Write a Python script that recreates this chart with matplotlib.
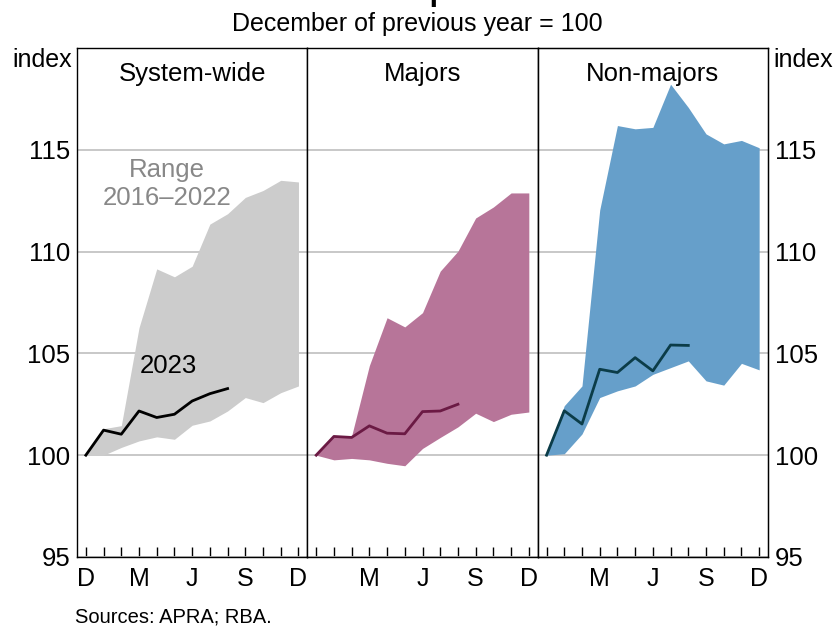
import numpy as np
import matplotlib.pyplot as plt

plt.rcParams['font.family'] = ['Liberation Sans', 'DejaVu Sans']

# --- Data (index, December of previous year = 100) ---
months = list(range(13))  # D, J, F, ... , D
month_labels = ['D', '', '', 'M', '', '', 'J', '', '', 'S', '', '', 'D']

sys_lower = [100, 100.0, 100.38, 100.7, 100.9, 100.78, 101.47, 101.68, 102.17, 102.83, 102.58, 103.07, 103.4]
sys_upper = [100, 101.3, 101.45, 106.26, 109.15, 108.76, 109.28, 111.35, 111.86, 112.66, 113.0, 113.5, 113.42]
sys_2023 = [100, 101.23, 101.03, 102.17, 101.85, 102.01, 102.66, 103.02, 103.27]

maj_lower = [100, 99.77, 99.84, 99.77, 99.6, 99.48, 100.33, 100.87, 101.39, 102.06, 101.65, 102.01, 102.12]
maj_upper = [100, 100.95, 100.95, 104.4, 106.75, 106.3, 107.0, 109.04, 110.02, 111.65, 112.19, 112.88, 112.88]
maj_2023 = [100, 100.92, 100.87, 101.44, 101.08, 101.05, 102.14, 102.17, 102.5]

non_lower = [100, 100.07, 101.04, 102.83, 103.16, 103.4, 103.97, 104.3, 104.63, 103.65, 103.44, 104.51, 104.19]
non_upper = [100, 102.43, 103.4, 112.04, 116.19, 116.03, 116.1, 118.22, 117.08, 115.78, 115.29, 115.46, 115.1]
non_2023 = [100, 102.18, 101.53, 104.22, 104.06, 104.79, 104.14, 105.41, 105.39]

panels = [
    ('System-wide', sys_lower, sys_upper, sys_2023, '#cccccc', '#000000'),
    ('Majors', maj_lower, maj_upper, maj_2023, '#b77599', '#6b1a44'),
    ('Non-majors', non_lower, non_upper, non_2023, '#669fca', '#0b3c48'),
]
yticks = [95, 100, 105, 110, 115]

fig = plt.figure(figsize=(8.35, 6.28), dpi=100)
axes = fig.subplots(1, 3, sharey=True)
fig.subplots_adjust(left=0.0922, right=0.9198, bottom=0.1131, top=0.9236, wspace=0)

for i, (name, lo, hi, cur, fill_c, line_c) in enumerate(panels):
    ax = axes[i]
    ax.set_xlim(-0.5, 12.5)
    ax.set_ylim(95, 120)
    ax.set_yticks(yticks)
    ax.grid(axis='y', color='#c4c4c4', linewidth=1.3, zorder=0)
    ax.set_axisbelow(True)
    ax.fill_between(months, lo, hi, color=fill_c, linewidth=0, zorder=2)
    ax.plot(months[:len(cur)], cur, color=line_c, linewidth=2, zorder=3)
    ax.set_xticks(months)
    labels = list(month_labels)
    if i > 0:
        labels[0] = ''
    ax.set_xticklabels(labels, fontsize=18)
    ax.tick_params(axis='x', direction='in', length=7, width=1, pad=7)
    ax.tick_params(axis='y', length=0, labelsize=18.5, pad=5)
    for s in ax.spines.values():
        s.set_color('black')
        s.set_linewidth(1)
    ax.text(0.5, 0.972, name, transform=ax.transAxes, ha='center', va='top', fontsize=18.5)

# right-hand axis labels
rax = axes[2].twinx()
rax.set_ylim(95, 120)
rax.set_yticks(yticks)
rax.tick_params(axis='y', length=0, labelsize=18.5, pad=5)

axes[0].tick_params(axis='y', labelleft=True)

# annotations
axes[0].text(4.6, 113.3, 'Range\n2016\u20132022', color='#888888', fontsize=18.5,
             ha='center', va='center', linespacing=1.2)
axes[0].text(4.66, 104.4, '2023', color='black', fontsize=18.5, ha='center', va='center')

# titles and labels
fig.text(0.5, 1.012, 'Cumulative Deposit Growth', fontsize=22, fontweight='bold',
         ha='center', va='center')
fig.text(0.5, 0.962, 'December of previous year = 100', fontsize=18, ha='center', va='center')
fig.text(0.0922 - 0.006, 0.9236, 'index', fontsize=18, ha='right', va='top')
fig.text(0.9198 + 0.006, 0.9236, 'index', fontsize=18, ha='left', va='top')
fig.text(0.09, 0.003, 'Sources: APRA; RBA.', fontsize=14.5, ha='left', va='bottom')

fig.savefig('out.png', dpi=100)
